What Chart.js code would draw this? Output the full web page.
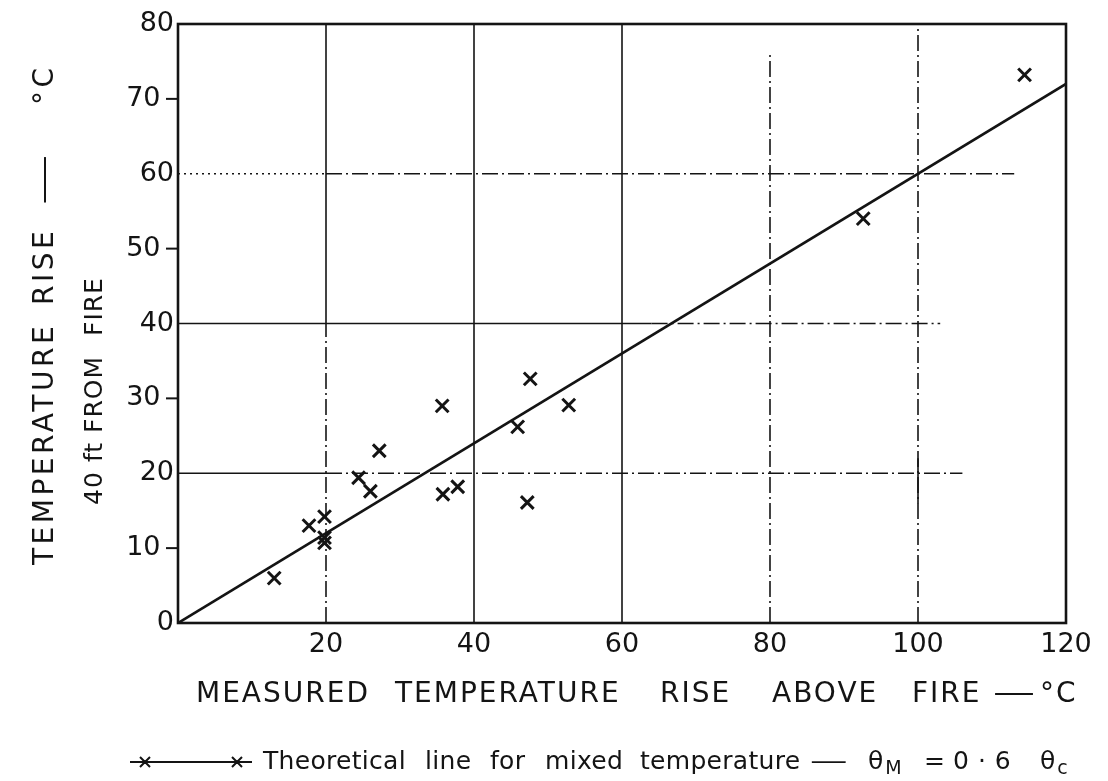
<!DOCTYPE html>
<html>
<head>
<meta charset="utf-8">
<title>Temperature rise 40 ft from fire</title>
<script src="https://cdn.jsdelivr.net/npm/chart.js@4.4.1/dist/chart.umd.min.js"></script>
<style>
  html, body { margin: 0; padding: 0; background: #ffffff; }
  #wrap { width: 1108px; height: 781px; }
  canvas { display: block; }
</style>
</head>
<body>
<div id="wrap"><canvas id="chart" width="1108" height="781"></canvas></div>
<script>
// Measured temperature rise above the fire (°C)
const measuredRise = [13.0, 17.7, 19.8, 19.8, 19.8, 24.4, 26.0, 27.2, 35.7, 35.8, 37.8, 45.9, 47.6, 47.2, 52.8, 92.6, 114.4];
// Temperature rise 40 ft from the fire (°C)
const riseAt40ft   = [6.0, 13.0, 14.2, 11.4, 10.7, 19.4, 17.6, 23.0, 29.0, 17.2, 18.2, 26.2, 32.6, 16.1, 29.1, 54.0, 73.2];

// Theoretical line for mixed temperature: θM = 0·6 θc
const theoryX = [0, 120];
const theoryY = [0, 72];

// Axis tick values
const xTickValues = [0, 20, 40, 60, 80, 100, 120];
const yTickValues = [0, 10, 20, 30, 40, 50, 60, 70, 80];

// Lettering, word by word ("a|b" sets b as a subscript)
const xTitleWords  = ['MEASURED', 'TEMPERATURE', 'RISE', 'ABOVE', 'FIRE', '—', '°C'];
const yTitleWords  = ['TEMPERATURE', 'RISE', '—', '°C'];
const yTitleWords2 = ['40', 'ft', 'FROM', 'FIRE'];
const captionWords = ['Theoretical', 'line', 'for', 'mixed', 'temperature', '—', 'θ|M', '=', '0·6', 'θ|c'];

const INK = '#141414';
const FONT = '"DejaVu Sans", "Liberation Sans", sans-serif';
const DASH_DOT = [16, 4, 2, 4];
const DOTTED = [2, 4];

// Where each word of a lettered row begins (pixels along the row)
const xTitleStarts   = [196, 395, 660, 772, 912, 993, 1040];
const yTitleStarts   = [565, 305, 205, 105];
const yTitle2Starts  = [505, 462, 433, 336];
const captionStarts  = [263, 425, 490, 545, 640, 810, 868, 924, 953, 1040];

// Ruled lines of the graph paper, in data units
const gridRules = [
  { dir: 'v', at: 20,  from: 40, to: 80,  dash: [] },
  { dir: 'v', at: 20,  from: 0,  to: 40,  dash: DASH_DOT },
  { dir: 'v', at: 40,  from: 0,  to: 80,  dash: [] },
  { dir: 'v', at: 60,  from: 0,  to: 80,  dash: [] },
  { dir: 'v', at: 80,  from: 0,  to: 76,  dash: DASH_DOT },
  { dir: 'v', at: 100, from: 0,  to: 80,  dash: DASH_DOT },
  { dir: 'v', at: 100, from: 16, to: 22,  dash: [] },
  { dir: 'h', at: 20,  from: 0,  to: 20,  dash: [] },
  { dir: 'h', at: 20,  from: 20, to: 106, dash: DASH_DOT },
  { dir: 'h', at: 40,  from: 0,  to: 64,  dash: [] },
  { dir: 'h', at: 40,  from: 64, to: 103, dash: DASH_DOT },
  { dir: 'h', at: 60,  from: 0,  to: 20,  dash: DOTTED },
  { dir: 'h', at: 60,  from: 20, to: 113, dash: DASH_DOT }
];
const minorYTicks = [10, 30, 50, 70];

// Sets a row of words, each at its own start. With dir = -1 the row is
// turned to read upwards, the starts then being heights on the page.
function drawWords(ctx, words, starts, cross, style) {
  const { size, ls, dir = 1, perWord = {}, subScale = 0.65, dashStretch = 1.5 } = style;
  const main = size + 'px ' + FONT;
  const sub = Math.round(size * subScale) + 'px ' + FONT;
  ctx.save();
  if (dir === -1) {
    ctx.translate(cross, 0);
    ctx.rotate(-Math.PI / 2);
  }
  const y = dir === -1 ? 0 : cross;
  words.forEach((w, i) => {
    const [base, low] = w.split('|');
    const spacing = perWord[w] !== undefined ? perWord[w] : ls;
    let pos = dir === -1 ? -starts[i] : starts[i];
    ctx.font = main;
    if (base === '—') {
      // the long lettering dash
      ctx.save();
      ctx.translate(pos, y);
      ctx.scale(dashStretch, 1);
      ctx.fillText(base, 0, 0);
      ctx.restore();
      return;
    }
    ctx.letterSpacing = spacing + 'px';
    ctx.fillText(base, pos, y);
    ctx.letterSpacing = '0px';
    pos += ctx.measureText(base).width + spacing * base.length;
    if (low) {
      ctx.font = sub;
      ctx.fillText(low, pos, y + size * 0.3);
    }
  });
  ctx.letterSpacing = '0px';
  ctx.restore();
}

const paperPlugin = {
  id: 'paper',
  beforeDraw(chart) {
    const ctx = chart.ctx;
    ctx.save();
    ctx.fillStyle = '#ffffff';
    ctx.fillRect(0, 0, chart.width, chart.height);
    ctx.restore();
  }
};

const rulesPlugin = {
  id: 'rules',
  beforeDatasetsDraw(chart) {
    const { ctx, chartArea: a, scales: { x, y } } = chart;
    ctx.save();
    ctx.strokeStyle = INK;
    ctx.lineWidth = 1.6;
    gridRules.forEach(r => {
      ctx.setLineDash(r.dash);
      ctx.beginPath();
      if (r.dir === 'v') {
        const px = x.getPixelForValue(r.at);
        ctx.moveTo(px, y.getPixelForValue(r.from));
        ctx.lineTo(px, y.getPixelForValue(r.to));
      } else {
        const py = y.getPixelForValue(r.at);
        ctx.moveTo(x.getPixelForValue(r.from), py);
        ctx.lineTo(x.getPixelForValue(r.to), py);
      }
      ctx.stroke();
    });
    ctx.setLineDash([]);
    // short outward ticks at the odd tens
    ctx.lineWidth = 2;
    minorYTicks.forEach(v => {
      const py = y.getPixelForValue(v);
      ctx.beginPath();
      ctx.moveTo(a.left - 12, py);
      ctx.lineTo(a.left, py);
      ctx.stroke();
    });
    // frame
    ctx.lineWidth = 2.6;
    ctx.strokeRect(a.left, a.top, a.right - a.left, a.bottom - a.top);
    ctx.restore();
  }
};

const lettersPlugin = {
  id: 'letters',
  afterDraw(chart) {
    const ctx = chart.ctx;
    ctx.save();
    ctx.fillStyle = INK;
    ctx.strokeStyle = INK;
    ctx.textBaseline = 'middle';
    ctx.textAlign = 'left';

    // axis titles
    drawWords(ctx, xTitleWords, xTitleStarts, 695, { size: 28, ls: 2 });
    drawWords(ctx, yTitleWords, yTitleStarts, 46, { size: 28, ls: 3.5, dir: -1, dashStretch: 1.8 });
    drawWords(ctx, yTitleWords2, yTitle2Starts, 95, { size: 25, ls: 1, dir: -1 });

    // caption key: a short line with two crosses
    const ky = 762;
    ctx.lineWidth = 2;
    ctx.beginPath();
    ctx.moveTo(130, ky);
    ctx.lineTo(252, ky);
    [145, 237].forEach(cx => {
      ctx.moveTo(cx - 5, ky - 5); ctx.lineTo(cx + 5, ky + 5);
      ctx.moveTo(cx - 5, ky + 5); ctx.lineTo(cx + 5, ky - 5);
    });
    ctx.stroke();

    // caption text
    drawWords(ctx, captionWords, captionStarts, ky, {
      size: 25, ls: 0.3, subScale: 0.75, perWord: { '0·6': 9, 'θ|M': 2, 'θ|c': 2 }
    });
    ctx.restore();
  }
};

const tickFont = { family: FONT, size: 27 };

new Chart(document.getElementById('chart').getContext('2d'), {
  type: 'scatter',
  data: {
    datasets: [
      {
        label: 'Theoretical line for mixed temperature',
        data: theoryX.map((v, i) => ({ x: v, y: theoryY[i] })),
        showLine: true,
        borderColor: INK,
        borderWidth: 2.7,
        pointRadius: 0,
        order: 2
      },
      {
        label: 'Measured',
        data: measuredRise.map((v, i) => ({ x: v, y: riseAt40ft[i] })),
        showLine: false,
        pointStyle: 'crossRot',
        pointRadius: 9,
        pointBorderWidth: 3,
        borderColor: INK,
        backgroundColor: INK,
        order: 1
      }
    ]
  },
  options: {
    responsive: false,
    animation: false,
    devicePixelRatio: 1,
    layout: { padding: { top: 24, right: 42, bottom: 0, left: 0 } },
    plugins: { legend: { display: false }, tooltip: { enabled: false } },
    scales: {
      x: {
        type: 'linear', min: 0, max: 120,
        afterBuildTicks: s => { s.ticks = xTickValues.map(v => ({ value: v })); },
        afterFit: s => { s.height = 158; },
        grid: { display: false, drawTicks: false },
        border: { display: false },
        ticks: {
          font: tickFont, color: INK, padding: 6, maxRotation: 0, autoSkip: false,
          callback: v => (v === 0 ? '' : String(v))
        }
      },
      y: {
        type: 'linear', min: 0, max: 80,
        afterBuildTicks: s => { s.ticks = yTickValues.map(v => ({ value: v })); },
        afterFit: s => { s.width = 178; },
        grid: { display: false, drawTicks: false },
        border: { display: false },
        ticks: {
          font: tickFont, color: INK, padding: 4, autoSkip: false,
          // odd tens sit clear of their outward tick mark
          callback: v => (minorYTicks.includes(v) ? v + '\u2002' : String(v))
        }
      }
    }
  },
  plugins: [paperPlugin, rulesPlugin, lettersPlugin]
});
</script>
</body>
</html>
